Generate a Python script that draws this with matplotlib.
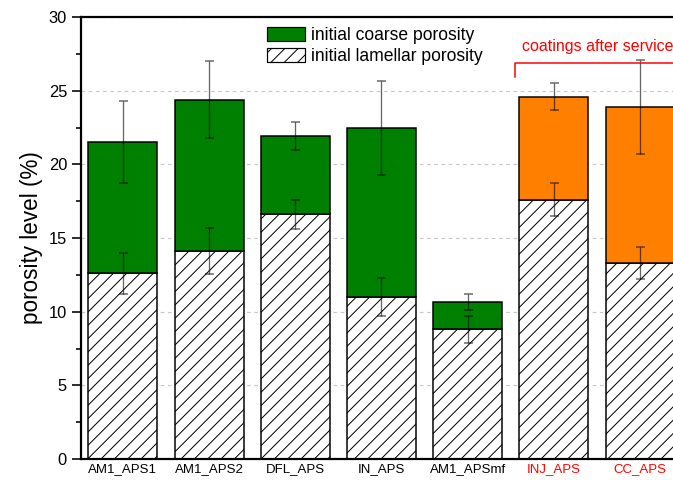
import matplotlib
matplotlib.use("Agg")
import matplotlib.pyplot as plt
import numpy as np
from matplotlib.patches import Patch

categories = ["AM1_APS1", "AM1_APS2", "DFL_APS", "IN_APS", "AM1_APSmf", "INJ_APS", "CC_APS"]
lamellar = [12.6, 14.1, 16.6, 11.0, 8.8, 17.6, 13.3]
total = [21.5, 24.4, 21.9, 22.45, 10.65, 24.6, 23.9]
lamellar_err = [1.4, 1.55, 1.0, 1.27, 0.92, 1.1, 1.08]
total_err = [2.8, 2.6, 0.95, 3.2, 0.53, 0.92, 3.2]
after_service = [False, False, False, False, False, True, True]

DPI = 120
def pt(px):
    return px * 72.0 / DPI

plt.rcParams['font.family'] = ['Liberation Sans', 'DejaVu Sans']
plt.rcParams['hatch.linewidth'] = 0.6

fig = plt.figure(figsize=(673 / DPI, 480 / DPI), dpi=DPI)
ax = fig.add_axes([81 / 673, 1 - 459 / 480, 1 - 81 / 673, (459 - 17) / 480])

x = np.arange(len(categories))
coarse = [t - l for t, l in zip(total, lamellar)]
colors = ['#FF8000' if a else '#008000' for a in after_service]
width = 0.8

ax.bar(x, lamellar, width, color='white', edgecolor='black', hatch='///',
       linewidth=pt(1.5), zorder=2)
ax.bar(x, coarse, width, bottom=lamellar, color=colors, edgecolor='black',
       linewidth=pt(1.5), zorder=2)

ax.errorbar(x, lamellar, yerr=lamellar_err, fmt='none', ecolor='black', alpha=0.6,
            elinewidth=pt(1.3), capsize=pt(4.5), capthick=pt(1.5), zorder=3)
ax.errorbar(x, total, yerr=total_err, fmt='none', ecolor='black', alpha=0.6,
            elinewidth=pt(1.3), capsize=pt(4.5), capthick=pt(1.5), zorder=3)

ax.set_xlim(-0.487, 6.383)
ax.set_ylim(0, 30)
ax.set_yticks([0, 5, 10, 15, 20, 25, 30])
ax.set_yticks(np.arange(2.5, 30, 5), minor=True)
ax.yaxis.grid(True, which='major', linestyle=(0, (3, 3)), color='#c8c8c8', linewidth=pt(1.2), zorder=0)
ax.set_axisbelow(True)

ax.set_xticks(x)
ax.set_xticklabels(categories, fontsize=pt(13.3))
for lbl, a in zip(ax.get_xticklabels(), after_service):
    lbl.set_color('red' if a else 'black')
ax.tick_params(axis='x', length=0, pad=pt(4))
ax.tick_params(axis='y', which='major', direction='out', length=pt(9), width=pt(1.6),
               labelsize=pt(16.5), pad=pt(5))
ax.tick_params(axis='y', which='minor', direction='out', length=pt(5), width=pt(1.6))

for s in ['left', 'bottom', 'top']:
    ax.spines[s].set_linewidth(pt(2.2))
ax.spines['right'].set_visible(False)

ax.set_ylabel('porosity level (%)', fontsize=pt(22.5), labelpad=pt(6))

handles = [Patch(facecolor='#008000', edgecolor='black', linewidth=pt(1.2)),
           Patch(facecolor='white', edgecolor='black', hatch='///', linewidth=pt(1.2))]
fig.legend(handles, ['initial coarse porosity', 'initial lamellar porosity'],
           loc='upper left', bbox_to_anchor=(255 / 673, 1 - 15 / 480), frameon=False,
           fontsize=pt(17.5), handlelength=2.15, handleheight=0.85, handletextpad=0.35,
           labelspacing=0.2, borderpad=0.2)

# bracket for coatings after service
bx = 4.55
ax.plot([bx, bx, 6.5], [25.93, 26.88, 26.88], color='red', linewidth=pt(1.5),
        clip_on=False, zorder=4)
ax.text(522 / 673, 1 - 46 / 480, 'coatings after service', transform=fig.transFigure,
        color='red', fontsize=pt(16), ha='left', va='center')

fig.savefig('out.png', dpi=DPI)
